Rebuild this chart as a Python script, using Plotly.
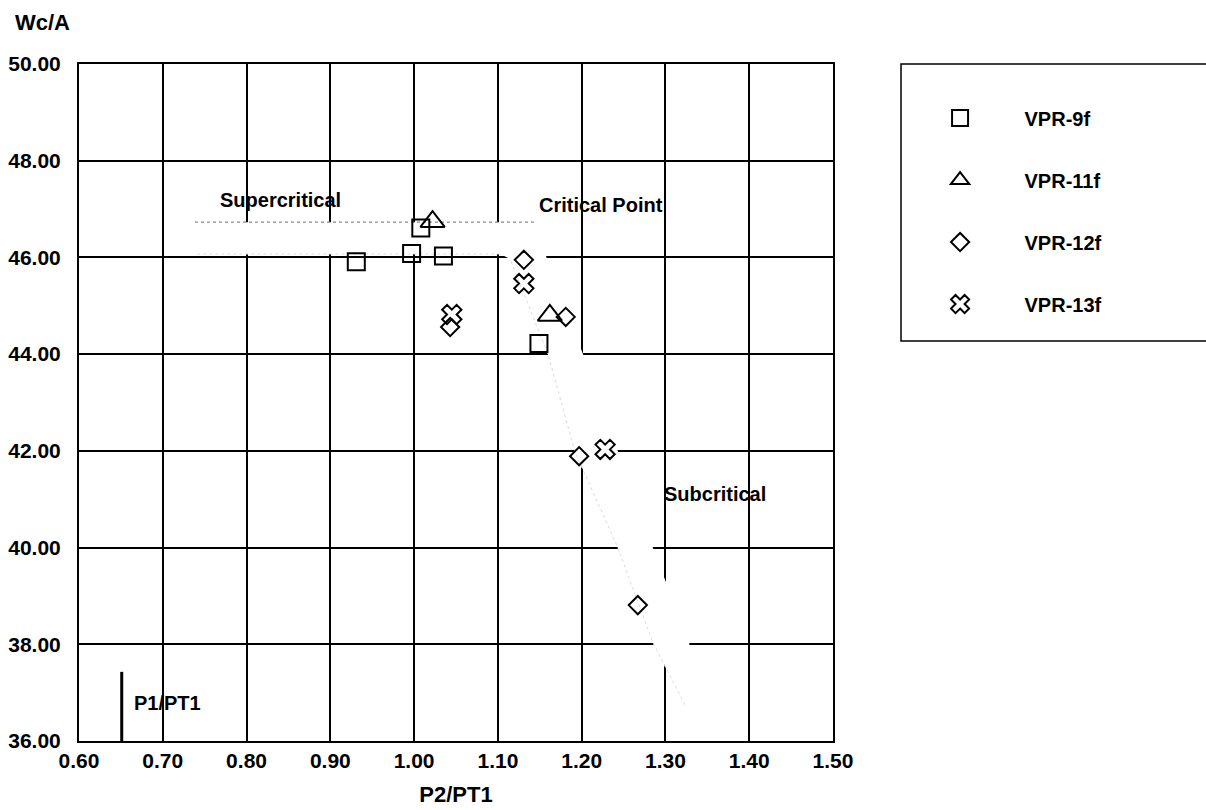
import plotly.graph_objects as go

# ---------------- data ----------------
series_names = ["VPR-9f", "VPR-11f", "VPR-12f", "VPR-13f"]

vpr9_x = [0.931, 0.997, 1.008, 1.035, 1.149]
vpr9_y = [45.91, 46.08, 46.61, 46.03, 44.22]

vpr11_x = [1.022, 1.162]
vpr11_y = [46.74, 44.80]

vpr12_x = [1.131, 1.043, 1.181, 1.197, 1.267]
vpr12_y = [45.95, 44.56, 44.77, 41.89, 38.81]

vpr13_x = [1.131, 1.045, 1.228]
vpr13_y = [45.46, 44.82, 42.03]

# P1/PT1 marker line
p1_x = [0.651, 0.651]
p1_y = [36.0, 37.43]

# shaded (erased) operating band: supercritical -> critical point -> subcritical
band_x = [0.7385, 1.1443, 1.1586, 1.2016, 1.2434, 1.2851, 1.3281, 1.3472,
          1.3233, 1.2851, 1.2434, 1.1920, 1.1598, 1.1144, 1.1030, 0.7385]
band_y = [46.73, 46.73, 45.97, 44.00, 41.98, 39.99, 38.03, 36.85,
          36.75, 38.03, 39.99, 41.98, 44.00, 45.97, 46.07, 46.07]

x_range = [0.6, 1.5]
y_range = [36.0, 50.0]

region_labels = ["Supercritical", "Critical Point", "Subcritical", "P1/PT1"]
region_x = [0.841, 1.223, 1.359, 0.706]
region_y = [47.19, 47.08, 41.11, 36.79]

# ---------------- figure ----------------
FONT = "Liberation Sans, Arial, Helvetica, sans-serif"
fig = go.Figure()

path = "M " + " L ".join(f"{x},{y}" for x, y in zip(band_x, band_y)) + " Z"
fig.add_shape(type="path", path=path, xref="x", yref="y",
              fillcolor="white", line=dict(width=0), layer="between")

# faint speckled edges of the band
fig.add_trace(go.Scatter(x=band_x[0:2], y=band_y[0:2], mode="lines",
                         line=dict(color="#8a8a8a", width=1.2, dash="dot"),
                         showlegend=False, hoverinfo="skip"))
fig.add_trace(go.Scatter(x=band_x[8:14], y=band_y[8:14], mode="lines",
                         line=dict(color="#dcdcdc", width=1, dash="dot"),
                         showlegend=False, hoverinfo="skip"))
fig.add_trace(go.Scatter(x=band_x[14:16], y=band_y[14:16], mode="lines",
                         line=dict(color="#dedede", width=1, dash="dot"),
                         showlegend=False, hoverinfo="skip"))

fig.add_trace(go.Scatter(x=p1_x, y=p1_y, mode="lines",
                         line=dict(color="black", width=3),
                         showlegend=False, hoverinfo="skip"))

pad = "\u00a0" * 8
specs = [
    (vpr9_x, vpr9_y, "square-open", 17),
    (vpr11_x, vpr11_y, "triangle-up-open", 21),
    (vpr12_x, vpr12_y, "diamond-open", 14),
    (vpr13_x, vpr13_y, "x-open", 17),
]
for name, (xs, ys, sym, sz) in zip(series_names, specs):
    fig.add_trace(go.Scatter(
        x=xs, y=ys, mode="markers", name=pad + name,
        legendgroup=name,
        marker=dict(symbol=sym, size=sz, color="black", line=dict(width=2, color="black")),
    ))

for t, x, y in zip(region_labels, region_x, region_y):
    fig.add_annotation(x=x, y=y, xref="x", yref="y", text=t, showarrow=False,
                       font=dict(family=FONT, size=20, color="black", weight="bold"))

# legend frame (right edge runs off the page as in the reference)
fig.add_shape(type="rect", xref="paper", yref="paper",
              x0=1.0902, x1=1.56, y0=0.5908, y1=1.0,
              line=dict(color="black", width=1.5), fillcolor="rgba(0,0,0,0)")

# y-axis title at top-left
fig.add_annotation(x=-0.0875, y=1.062, xref="paper", yref="paper", text="Wc/A",
                   xanchor="left", yanchor="middle", showarrow=False,
                   font=dict(family=FONT, size=22, color="black", weight="bold"))

axis_font = dict(family=FONT, size=21, color="black", weight="bold")
fig.update_xaxes(range=x_range, dtick=0.1, tick0=0.6, tickformat=".2f",
                 showgrid=True, gridcolor="black", gridwidth=1.5,
                 showline=True, mirror=True, linecolor="black", linewidth=2,
                 zeroline=False, ticks="", tickfont=axis_font,
                 title=dict(text="P2/PT1", font=dict(family=FONT, size=22, color="black", weight="bold"),
                            standoff=15))
fig.update_yaxes(range=y_range, dtick=2, tick0=36, tickformat=".2f",
                 showgrid=True, gridcolor="black", gridwidth=2,
                 showline=True, mirror=True, linecolor="black", linewidth=2,
                 zeroline=False, ticks="", tickfont=axis_font, ticklabelstandoff=12)

fig.update_layout(
    width=1206, height=810, autosize=False,
    margin=dict(l=79, r=373, t=64, b=69, autoexpand=False),
    paper_bgcolor="white", plot_bgcolor="white",
    font=dict(family=FONT, color="black"),
    showlegend=True,
    legend=dict(x=1.142, y=0.949, xanchor="left", yanchor="top",
                bgcolor="rgba(0,0,0,0)", borderwidth=0,
                font=dict(family=FONT, size=20, color="black", weight="bold"),
                tracegroupgap=33, itemsizing="trace"),
)

fig.write_html("out.html", post_script="document.body.style.margin='0';")
